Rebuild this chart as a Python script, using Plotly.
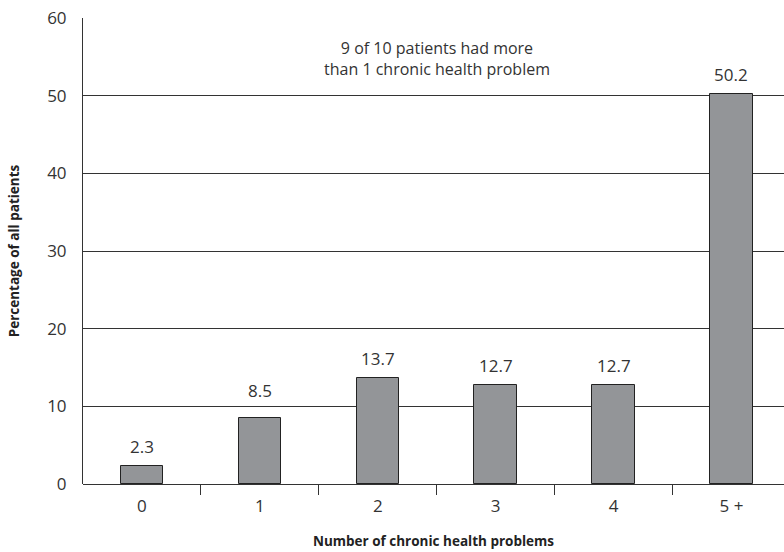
import plotly.graph_objects as go

# Share of patients by number of chronic health problems
categories = ["0", "1", "2", "3", "4", "5 +"]
percentages = [2.3, 8.5, 13.7, 12.7, 12.7, 50.2]
y_ticks = [0, 10, 20, 30, 40, 50, 60]

positions = list(range(len(categories)))
labels = [f"{v:.1f}" for v in percentages]
# Extra lift (px) for labels that would otherwise sit on a gridline
label_lift = [6, 14, 6, 6, 6, 6]

FONT = "Open Sans, Noto Sans, sans-serif"
INK = "#333333"

fig = go.Figure()
fig.add_trace(go.Bar(
    x=positions,
    y=percentages,
    width=0.36,
    marker=dict(color="#939598", line=dict(color="#222222", width=1)),
    showlegend=False,
))

# Invisible trace on an overlaid axis carries the between-category tick marks
fig.add_trace(go.Scatter(x=[None], y=[None], xaxis="x2", showlegend=False))

x_range = [-0.5, 5.446]

# Value labels above each bar
value_notes = [dict(
    x=p, y=v, xref="x", yref="y", text=t,
    showarrow=False, yanchor="bottom", yshift=s,
    font=dict(size=17, color=INK),
) for p, v, t, s in zip(positions, percentages, labels, label_lift)]

fig.update_layout(
    width=784,
    height=552,
    margin=dict(l=83, r=0, t=18, b=68),
    paper_bgcolor="white",
    plot_bgcolor="white",
    font=dict(family=FONT, color=INK, size=17),
    bargap=0,
    xaxis=dict(
        range=x_range,
        tickmode="array",
        tickvals=positions,
        ticktext=categories,
        ticks="",
        ticklabelstandoff=10,
        showgrid=False,
        zeroline=False,
        showline=False,
        tickfont=dict(size=17, color=INK),
        title=dict(text="<b>Number of chronic health problems</b>",
                   font=dict(size=13.5, color="#222222"), standoff=20),
    ),
    xaxis2=dict(
        overlaying="x",
        side="bottom",
        range=x_range,
        tickmode="array",
        tickvals=[p + 0.5 for p in positions[:-1]],
        showticklabels=False,
        ticks="outside",
        ticklen=10,
        tickwidth=1,
        tickcolor=INK,
        showgrid=False,
        zeroline=False,
        showline=False,
    ),
    yaxis=dict(
        range=[0, 60],
        tickmode="array",
        tickvals=y_ticks,
        ticks="",
        ticklabelstandoff=12,
        showgrid=True,
        gridcolor=INK,
        gridwidth=1,
        zeroline=True,
        zerolinecolor=INK,
        zerolinewidth=1,
        showline=True,
        linecolor=INK,
        linewidth=1,
        tickfont=dict(size=17, color=INK),
        title=dict(text="<b>Percentage of all patients</b>",
                   font=dict(size=13.5, color="#222222"), standoff=24),
    ),
    annotations=value_notes + [dict(
        text="9 of 10 patients had more<br>than 1 chronic health problem",
        x=2.5, xref="x", y=54.8, yref="y",
        showarrow=False,
        font=dict(size=16, color=INK),
        align="center",
    )],
)

fig.write_html("out.html")
